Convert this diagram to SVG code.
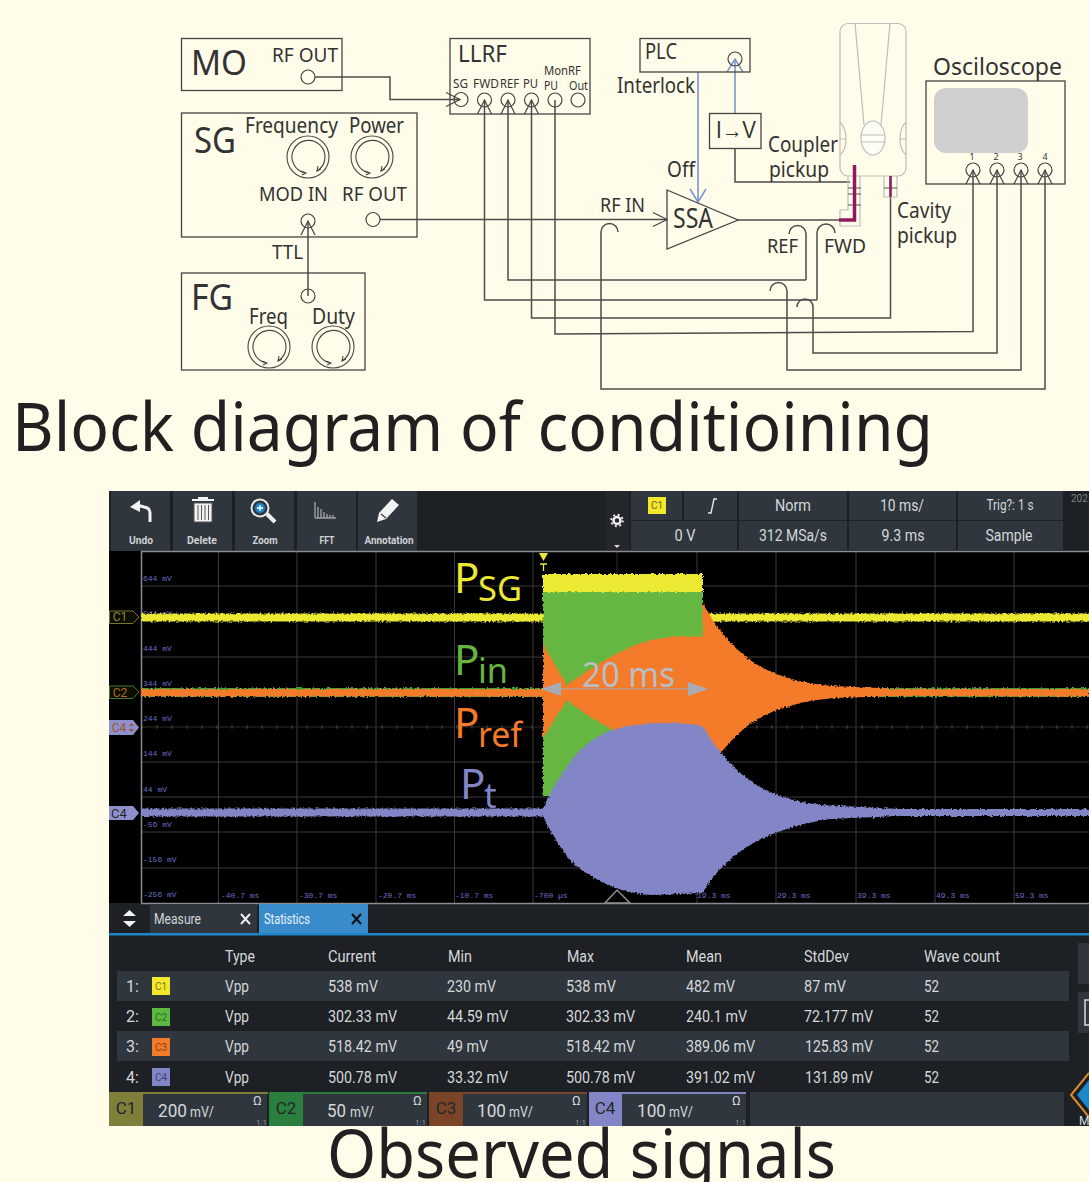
<svg xmlns="http://www.w3.org/2000/svg" xmlns:xlink="http://www.w3.org/1999/xlink" width="1089" height="1182" viewBox="0 0 1089 1182">
<style>
text{font-family:"Noto Sans","Open Sans","Liberation Sans",sans-serif;fill:#333}
.box{fill:none;stroke:#444;stroke-width:1.3}
.port{fill:none;stroke:#444;stroke-width:1.2}
.w{fill:none;stroke:#4c4c4c;stroke-width:1.5}
.b{fill:none;stroke:#7b94cf;stroke-width:1.6}
.g{fill:none;stroke:#bdbdbd;stroke-width:1.2}
.title{font-size:68px;fill:#231f20}
.ui{font-family:Roboto,"Liberation Sans",sans-serif;fill:#d5d8da;font-size:16px}
.tb{font-family:Roboto,"Liberation Sans",sans-serif;fill:#d0d3d6;font-size:11px;font-weight:700;text-anchor:middle}
.hd{font-family:Roboto,"Liberation Sans",sans-serif;fill:#d5d8da;font-size:17px;text-anchor:middle}
.ax{font-family:"Liberation Mono",monospace;fill:#6a6cc0;font-size:8px}
.btn{fill:#2f363d}
.grid{stroke:#3b3b3b;stroke-width:1;fill:none}
.chip{font-family:Roboto,"Liberation Sans",sans-serif;font-size:10px;text-anchor:middle}
.ch{font-family:Roboto,"Liberation Sans",sans-serif;font-size:17px;fill:#22262a;text-anchor:middle}
.om{font-size:13px}
.rt{font-size:8px;fill:#8d9297}
</style>
<defs>
<marker id="v" markerUnits="userSpaceOnUse" markerWidth="18" markerHeight="20" refX="15" refY="10" orient="auto"><path d="M1 3L15 10L1 17" fill="none" stroke="#444" stroke-width="1.2"/></marker>
<marker id="vb" markerUnits="userSpaceOnUse" markerWidth="18" markerHeight="20" refX="15" refY="10" orient="auto"><path d="M2 2L15 10L2 18" fill="none" stroke="#7b94cf" stroke-width="1.5"/></marker>
<g id="knob"><circle r="21" fill="none" stroke="#444" stroke-width="1.1"/><path d="M-3 16A16.5 16.5 0 1 1 9 14" fill="none" stroke="#444" stroke-width="1.1"/><path d="M-7 14L-2 16L-6 18M10 9L9 14L13 12" fill="none" stroke="#444" stroke-width="1.1"/></g>
<filter id="noise" x="0" y="0" width="1089" height="1182" filterUnits="userSpaceOnUse" color-interpolation-filters="sRGB"><feTurbulence type="fractalNoise" baseFrequency="0.45" numOctaves="2" seed="4" result="n"/><feDisplacementMap in="SourceGraphic" in2="n" scale="4" xChannelSelector="R" yChannelSelector="G"/></filter>
</defs>
<rect width="1089" height="1182" fill="#fffde9"/>

<g id="connectors">
<path class="w" d="M315 77H390V99.5H460" marker-end="url(#v)"/>
<path class="w" d="M308 296V221" marker-end="url(#v)"/>
<path class="w" d="M380 219.5H667" marker-end="url(#v)"/>
<path class="w" d="M806 280H508V100" marker-end="url(#v)"/>
<path class="w" d="M806 280V234A8.5 8.5 0 0 0 789 234"/>
<path class="w" d="M817 300H484.500V100" marker-end="url(#v)"/>
<path class="w" d="M817 300V233A9 9 0 0 1 835 233"/>
<path class="w" d="M890.500 176V318H531.500V100" marker-end="url(#v)"/>
<path class="w" d="M555 100V334L973 331.500V170" marker-end="url(#v)"/>
<path class="w" d="M770 291A8.500 8.500 0 0 1 787 291V370H1021V170" marker-end="url(#v)"/>
<path class="w" d="M797 307A8 8 0 0 1 813 307V353H997V170" marker-end="url(#v)"/>
<path class="w" d="M618 232A8.500 8.500 0 0 0 601 232V389H1045V170" marker-end="url(#v)"/>
<path class="w" d="M735 148V182H850"/>
<path class="w" d="M738 220H840"/>
<path class="b" d="M698 72V202" marker-end="url(#vb)"/>
<path class="b" d="M735 113V59" marker-end="url(#vb)"/>
</g>

<g id="node-mo"><rect class="box" x="181.500" y="38.500" width="160.500" height="52"/><text x="191" y="75" font-size="35" textLength="56" lengthAdjust="spacingAndGlyphs">MO</text><text x="272" y="62" font-size="20" textLength="66" lengthAdjust="spacingAndGlyphs">RF OUT</text><circle class="port" cx="308" cy="77" r="7"/></g>

<g id="node-llrf"><rect class="box" x="450" y="38.500" width="140" height="75.500"/><text x="458" y="62" font-size="23" textLength="49" lengthAdjust="spacingAndGlyphs">LLRF</text>
<g font-size="12"><text x="453" y="88" textLength="15" lengthAdjust="spacingAndGlyphs">SG</text><text x="473" y="88" textLength="26" lengthAdjust="spacingAndGlyphs">FWD</text><text x="500" y="88" textLength="19" lengthAdjust="spacingAndGlyphs">REF</text><text x="523" y="88" textLength="15" lengthAdjust="spacingAndGlyphs">PU</text><text x="544" y="90" textLength="14" lengthAdjust="spacingAndGlyphs">PU</text><text x="544" y="75" textLength="37" lengthAdjust="spacingAndGlyphs">MonRF</text><text x="569" y="90" textLength="19" lengthAdjust="spacingAndGlyphs">Out</text></g>
<circle class="port" cx="461" cy="99.500" r="7"/><circle class="port" cx="484.500" cy="100" r="7"/><circle class="port" cx="508" cy="100" r="7"/><circle class="port" cx="531.500" cy="100" r="7"/><circle class="port" cx="555" cy="100" r="7"/><circle class="port" cx="578" cy="100" r="7"/></g>

<g id="node-sg"><rect class="box" x="181.500" y="113" width="235.500" height="124"/><text x="194" y="153" font-size="36" textLength="42" lengthAdjust="spacingAndGlyphs">SG</text><text x="245" y="133" font-size="21" textLength="93" lengthAdjust="spacingAndGlyphs">Frequency</text><text x="349" y="133" font-size="21" textLength="55" lengthAdjust="spacingAndGlyphs">Power</text><text x="259" y="201" font-size="20" textLength="69" lengthAdjust="spacingAndGlyphs">MOD IN</text><text x="342" y="201" font-size="20" textLength="65" lengthAdjust="spacingAndGlyphs">RF OUT</text><use xlink:href="#knob" href="#knob" x="308" y="157"/><use xlink:href="#knob" href="#knob" x="372" y="157"/><circle class="port" cx="308" cy="221" r="7"/><circle class="port" cx="373" cy="219.500" r="7"/></g>

<g id="label-ttl"><text x="272" y="259" font-size="20" textLength="31" lengthAdjust="spacingAndGlyphs">TTL</text></g>

<g id="node-fg"><rect class="box" x="181.500" y="273" width="183.500" height="97"/><text x="191" y="310" font-size="36" textLength="42" lengthAdjust="spacingAndGlyphs">FG</text><text x="249" y="324" font-size="21" textLength="39" lengthAdjust="spacingAndGlyphs">Freq</text><text x="312" y="324" font-size="21" textLength="43" lengthAdjust="spacingAndGlyphs">Duty</text><circle class="port" cx="308" cy="296" r="7"/><use xlink:href="#knob" href="#knob" x="269" y="347"/><use xlink:href="#knob" href="#knob" x="333" y="347"/></g>

<g id="node-plc"><rect class="box" x="640" y="38.500" width="110" height="33.500"/><text x="645" y="59" font-size="21" textLength="32" lengthAdjust="spacingAndGlyphs">PLC</text><circle class="port" cx="735" cy="59" r="7"/><text x="617" y="93" font-size="21" textLength="78" lengthAdjust="spacingAndGlyphs">Interlock</text></g>

<g id="node-iv"><rect class="box" x="709.500" y="113.500" width="51.500" height="35"/><text x="716" y="138" font-size="23" textLength="40" lengthAdjust="spacingAndGlyphs" style="font-family:'Liberation Sans',sans-serif">I→V</text></g>

<g id="node-ssa"><path d="M667 190L738 220L667 249Z" fill="none" stroke="#444" stroke-width="1.3"/><text x="673" y="228" font-size="28" textLength="40" lengthAdjust="spacingAndGlyphs">SSA</text><text x="667" y="177" font-size="21" textLength="28" lengthAdjust="spacingAndGlyphs">Off</text><text x="600" y="212" font-size="20" textLength="45" lengthAdjust="spacingAndGlyphs">RF IN</text></g>

<g id="node-cavity">
<rect class="g" x="840" y="23.500" width="66" height="152.500" rx="8"/>
<path class="g" d="M855 23L864 125M890 23L881 125"/>
<ellipse cx="873" cy="138" rx="12" ry="17" fill="#fffef6" stroke="#bdbdbd" stroke-width="1.2"/>
<path class="g" d="M861 135H885M861 142H885"/>
<path class="g" d="M840 122Q846 128 846 139Q846 150 840 155M840 139H846M906 122Q900 128 900 139Q900 150 906 155M900 139H906"/>
<path class="g" d="M848 176V210H840V226H860V176M884 176V197H897V176"/>
<path d="M848 188H861M848 194H861M848 205H861M884 188H897" stroke="#555" stroke-width="1.2" fill="none"/>
<path d="M839 220H854.500V165" fill="none" stroke="#8e1a5e" stroke-width="3.500"/>
<path d="M890.500 176V197" fill="none" stroke="#8e1a5e" stroke-width="2.500"/>
<text x="768" y="152" font-size="21" textLength="70" lengthAdjust="spacingAndGlyphs">Coupler</text><text x="769" y="177" font-size="21" textLength="60" lengthAdjust="spacingAndGlyphs">pickup</text>
<text x="897" y="218" font-size="21" textLength="54" lengthAdjust="spacingAndGlyphs">Cavity</text><text x="897" y="243" font-size="21" textLength="60" lengthAdjust="spacingAndGlyphs">pickup</text>
<text x="767" y="253" font-size="20" textLength="31" lengthAdjust="spacingAndGlyphs">REF</text><text x="824" y="253" font-size="20" textLength="42" lengthAdjust="spacingAndGlyphs">FWD</text>
</g>

<g id="node-oscilloscope"><rect class="box" x="926" y="81" width="139" height="103"/><rect x="934" y="88" width="94" height="65" rx="12" fill="#cfcfcf"/><text x="933" y="75" font-size="24" textLength="129" lengthAdjust="spacingAndGlyphs">Osciloscope</text>
<g font-size="9" text-anchor="middle"><text x="972" y="160">1</text><text x="996" y="160">2</text><text x="1020" y="160">3</text><text x="1045" y="160">4</text></g>
<circle class="port" cx="973" cy="170" r="7"/><circle class="port" cx="997" cy="170" r="7"/><circle class="port" cx="1021" cy="170" r="7"/><circle class="port" cx="1045" cy="170" r="7"/></g>

<text class="title" x="12" y="451" textLength="921" lengthAdjust="spacingAndGlyphs">Block diagram of conditioining</text>

<g id="scope">
<rect x="109" y="491" width="980" height="635" fill="#1d2024"/>
<rect class="btn" x="111" y="491" width="59" height="60"/><rect class="btn" x="173" y="491" width="59" height="60"/><rect class="btn" x="235" y="491" width="59" height="60"/><rect class="btn" x="297" y="491" width="59" height="60"/><rect class="btn" x="358" y="491" width="59" height="60"/>
<path d="M150 522V513Q150 508 144 507L137 505" fill="none" stroke="#f2f2f2" stroke-width="3"/><path d="M130 507L140 500V512Z" fill="#f2f2f2"/>
<path d="M192 500H214M199 500V498H207V500" stroke="#f2f2f2" stroke-width="2" fill="none"/><path d="M194 503H212V522H194ZM198 505V520M201.500 505V520M205 505V520M208.500 505V520" fill="#f2f2f2" stroke="#555" stroke-width="1"/>
<circle cx="260" cy="508" r="8.500" fill="#2f363d" stroke="#e8e8e8" stroke-width="2"/><circle cx="260" cy="508" r="5" fill="#1a86c8"/><path d="M257 508H263M260 505V511" stroke="#fff" stroke-width="1.300"/><path d="M267 514L275 522" stroke="#f2f2f2" stroke-width="4"/>
<path d="M315 502V518H336M318 507V518M321 509V518M324 512V518M327 514V518M330 515V518M333 515V518" fill="none" stroke="#c8c8c8" stroke-width="1"/>
<path d="M377 522L379 513L392 499L399 505L386 519Z" fill="#f2f2f2"/><path d="M381 514L386 518" stroke="#2f363d" stroke-width="1.300"/>
<g class="tb"><text class="tb" x="141" y="544" textLength="24" lengthAdjust="spacingAndGlyphs">Undo</text><text class="tb" x="202" y="544" textLength="30" lengthAdjust="spacingAndGlyphs">Delete</text><text class="tb" x="265" y="544" textLength="25" lengthAdjust="spacingAndGlyphs">Zoom</text><text class="tb" x="327" y="544" textLength="15" lengthAdjust="spacingAndGlyphs">FFT</text><text class="tb" x="389" y="544" textLength="49" lengthAdjust="spacingAndGlyphs">Annotation</text></g>

<rect x="606" y="491" width="23" height="60" fill="#23272b"/>
<circle cx="617" cy="520.500" r="3.500" fill="none" stroke="#f2f2f2" stroke-width="2.500"/><circle cx="617" cy="520.500" r="5.800" fill="none" stroke="#f2f2f2" stroke-width="1.800" stroke-dasharray="2 2.550"/><path d="M614 545H620L617 548Z" fill="#ddd"/>
<rect class="btn" x="631" y="491" width="51" height="29"/><rect class="btn" x="684" y="491" width="53" height="29"/><rect class="btn" x="739" y="491" width="108" height="29"/><rect class="btn" x="849" y="491" width="107" height="29"/><rect class="btn" x="958" y="491" width="105" height="29"/>
<rect class="btn" x="631" y="521" width="106" height="29"/><rect class="btn" x="739" y="521" width="108" height="29"/><rect class="btn" x="849" y="521" width="107" height="29"/><rect class="btn" x="958" y="521" width="105" height="29"/>
<rect x="648" y="497" width="18" height="17" fill="#f4e82c"/><text class="chip" x="657" y="509" style="fill:#6d6a20">C1</text>
<path d="M708 513H711L714 499H717" fill="none" stroke="#e6e6e6" stroke-width="1.400"/>
<text class="hd" x="793" y="511" textLength="36" lengthAdjust="spacingAndGlyphs">Norm</text><text class="hd" x="902" y="511" textLength="44" lengthAdjust="spacingAndGlyphs">10 ms/</text><text class="hd" x="1010" y="510" style="font-size:14px" textLength="47" lengthAdjust="spacingAndGlyphs">Trig?: 1 s</text>
<text class="hd" x="685" y="541" textLength="21" lengthAdjust="spacingAndGlyphs">0 V</text><text class="hd" x="793" y="541" textLength="68" lengthAdjust="spacingAndGlyphs">312 MSa/s</text><text class="hd" x="903" y="541" textLength="43" lengthAdjust="spacingAndGlyphs">9.3 ms</text><text class="hd" x="1009" y="541" textLength="47" lengthAdjust="spacingAndGlyphs">Sample</text>
<text x="1071" y="502" style="font-family:Roboto,sans-serif;fill:#7d8288;font-size:10px">202</text>

<rect x="109" y="551" width="980" height="352" fill="#000"/>
<path class="grid" d="M218.500 551V903M297 551V903M376 551V903M454.500 551V903M533 551V903M697 551V903M776 551V903M856 551V903M935 551V903M1014 551V903M141 586H1089M141 657H1089M141 762H1089M141 797H1089M141 832H1089M141 868H1089"/>
<path d="M141 727H1089" stroke="#3b3b3b" stroke-dasharray="2 13" stroke-width="3" fill="none"/><path d="M141 727H1089M617 551V640" stroke="#2c2c2c" stroke-width="1" fill="none"/>
<path d="M141.500 903V551.500H1089M141 903.500H1089" stroke="#8a8d90" stroke-width="1.500" fill="none"/>
<g id="axis-labels"><text class="ax" x="143" y="581">644 mV</text><text class="ax" x="143" y="616">544 mV</text><text class="ax" x="143" y="651">444 mV</text><text class="ax" x="143" y="686">344 mV</text><text class="ax" x="143" y="721">244 mV</text><text class="ax" x="143" y="756">144 mV</text><text class="ax" x="143" y="792">44 mV</text><text class="ax" x="143" y="827">-56 mV</text><text class="ax" x="143" y="862">-156 mV</text><text class="ax" x="143" y="897">-256 mV</text>
<text class="ax" x="221" y="898">-40.7 ms</text><text class="ax" x="299" y="898">-30.7 ms</text><text class="ax" x="378" y="898">-20.7 ms</text><text class="ax" x="455" y="898">-10.7 ms</text><text class="ax" x="534" y="898">-700 µs</text><text class="ax" x="697" y="898">19.3 ms</text><text class="ax" x="777" y="898">29.3 ms</text><text class="ax" x="857" y="898">39.3 ms</text><text class="ax" x="936" y="898">49.3 ms</text><text class="ax" x="1015" y="898">59.3 ms</text></g>
<path d="M605 903L617 890L630 903Z" fill="none" stroke="#8a8d90" stroke-width="1.500"/>

<g id="traces" filter="url(#noise)">
<rect x="141" y="613.500" width="402" height="8" fill="#ece933"/><rect x="708" y="613.500" width="381" height="8" fill="#ece933"/>
<rect x="543" y="574" width="160" height="19" fill="#ece933"/>
<path d="M141 688H1089V697H141Z" fill="#3f9c35"/>
<rect x="543" y="592" width="160" height="204" fill="#65b741"/>
<rect x="141" y="689" width="402" height="7.500" fill="#f47b2a"/>
<path d="M703 603C712 622 730 645 750 660C770 675 800 683 833 686L900 689L1089 689V696.500L900 696L833 698C800 701 770 710 750 724C730 739 712 762 703 782V749C680 749 660 748 640 742C610 731 585 714 567 700L543 738V645L567 685C585 672 610 655 640 643C660 637 680 636 703 636Z" fill="#f47b2a"/>
<path d="M141 808.500H543C552 790 570 752 600 735C615 727 640 723 665 723C685 723 697 724 703 727C712 742 722 755 735 768C755 788 780 800 820 805L900 809H1089V816H900L830 819C790 825 760 838 745 848C725 862 712 876 703 893L650 895C625 893 600 885 575 865C560 850 550 830 543 816.500H141Z" fill="#8286c6"/>
</g>

<g id="tags">
<path d="M109.500 611H133L139 617L133 623.500H109.500Z" fill="#0c0c00" stroke="#77772f"/><text class="chip" x="120" y="621" style="fill:#8a8a2c;font-size:12px">C1</text>
<path d="M109.500 686H133L139 692L133 698.500H109.500Z" fill="#0c0c00" stroke="#3f7a30"/><text class="chip" x="120" y="697" style="fill:#b76a27;font-size:12px">C2</text>
<path d="M109 720H133L139 727.500L133 735H109Z" fill="#8e90cc"/><text class="chip" x="119" y="732" style="fill:#a0522d;font-size:12px">C4</text><path d="M129 726L131.500 723L134 726ZM129 729L131.500 732L134 729Z" fill="#a0522d"/>
<path d="M109 806H133L139 813L133 820H109Z" fill="#8e90cc"/><text class="chip" x="119" y="818" style="fill:#22262a;font-size:13px">C4</text>
<path d="M539 553H548L543.500 561Z" fill="#ece933"/><path d="M540 564H547M543.500 564V571" stroke="#ece933" stroke-width="1.300" fill="none"/>
</g>

<g id="wave-labels">
<text x="454" y="593" font-size="42" style="fill:#ece933">P</text><text x="478" y="601" font-size="35" style="fill:#ece933" textLength="44" lengthAdjust="spacingAndGlyphs">SG</text>
<text x="454" y="675" font-size="42" style="fill:#65b741">P</text><text x="478" y="683" font-size="35" style="fill:#65b741" textLength="30" lengthAdjust="spacingAndGlyphs">in</text>
<text x="454" y="738" font-size="42" style="fill:#f47b2a">P</text><text x="478" y="747" font-size="35" style="fill:#f47b2a" textLength="44" lengthAdjust="spacingAndGlyphs">ref</text>
<text x="460" y="799" font-size="42" style="fill:#8286c6">P</text><text x="484" y="808" font-size="35" style="fill:#8286c6">t</text>
<text x="582" y="687" font-size="35" style="fill:#b9bdc5" textLength="93" lengthAdjust="spacingAndGlyphs">20 ms</text>
<path d="M560 689H690" stroke="#a6abb5" stroke-width="1.200" fill="none"/><path d="M541 689L561 682V696ZM708 689L688 682V696Z" fill="#a6abb5"/>
</g>

<g id="tabs">
<rect class="btn" x="150" y="904" width="107" height="29"/><rect x="259" y="904" width="109" height="29" fill="#3a8bca"/><rect x="109" y="933" width="980" height="2.500" fill="#1f86c8"/>
<path d="M123 916L129.500 910L136 916ZM123 921L129.500 927L136 921Z" fill="#f2f2f2"/>
<text class="ui" x="154" y="924" style="font-size:14px" textLength="47" lengthAdjust="spacingAndGlyphs">Measure</text><text class="ui" x="264" y="924" style="font-size:14px;fill:#e8f2f8" textLength="46" lengthAdjust="spacingAndGlyphs">Statistics</text>
<path d="M241 914L250 924M250 914L241 924" stroke="#eee" stroke-width="2"/><path d="M352 914L361 924M361 914L352 924" stroke="#111" stroke-width="2"/>
</g>

<g id="table">
<rect class="btn" x="117" y="971" width="952" height="30"/><rect class="btn" x="117" y="1031" width="952" height="30"/>
<rect class="btn" x="1078" y="943" width="11" height="41"/><rect class="btn" x="1078" y="992" width="11" height="41"/><path d="M1089 1000H1085V1025H1089" fill="none" stroke="#ddd" stroke-width="1.500"/>
<text class="ui" x="225" y="962" textLength="30" lengthAdjust="spacingAndGlyphs">Type</text><text class="ui" x="328" y="962" textLength="48" lengthAdjust="spacingAndGlyphs">Current</text><text class="ui" x="448" y="962" textLength="24" lengthAdjust="spacingAndGlyphs">Min</text><text class="ui" x="567" y="962" textLength="27" lengthAdjust="spacingAndGlyphs">Max</text><text class="ui" x="686" y="962" textLength="36" lengthAdjust="spacingAndGlyphs">Mean</text><text class="ui" x="804" y="962" textLength="45" lengthAdjust="spacingAndGlyphs">StdDev</text><text class="ui" x="924" y="962" textLength="76" lengthAdjust="spacingAndGlyphs">Wave count</text>
<text class="ui" x="126" y="992">1:</text><text class="ui" x="126" y="1022">2:</text><text class="ui" x="126" y="1052">3:</text><text class="ui" x="126" y="1083">4:</text>
<rect x="152" y="977" width="18" height="18" fill="#f4e82c"/><text class="chip" x="161" y="990" style="fill:#77752a">C1</text>
<rect x="152" y="1008" width="18" height="18" fill="#5cb83f"/><text class="chip" x="161" y="1021" style="fill:#2a6b2a">C2</text>
<rect x="152" y="1038" width="18" height="18" fill="#f47b2a"/><text class="chip" x="161" y="1051" style="fill:#8a3f14">C3</text>
<rect x="152" y="1068" width="18" height="18" fill="#8286c6"/><text class="chip" x="161" y="1081" style="fill:#3e4380">C4</text>
<text class="ui" x="225" y="992" textLength="24" lengthAdjust="spacingAndGlyphs">Vpp</text><text class="ui" x="225" y="1022" textLength="24" lengthAdjust="spacingAndGlyphs">Vpp</text><text class="ui" x="225" y="1052" textLength="24" lengthAdjust="spacingAndGlyphs">Vpp</text><text class="ui" x="225" y="1083" textLength="24" lengthAdjust="spacingAndGlyphs">Vpp</text>
<text class="ui" x="328" y="992" textLength="50" lengthAdjust="spacingAndGlyphs">538 mV</text><text class="ui" x="447" y="992" textLength="49" lengthAdjust="spacingAndGlyphs">230 mV</text><text class="ui" x="566" y="992" textLength="50" lengthAdjust="spacingAndGlyphs">538 mV</text><text class="ui" x="686" y="992" textLength="49" lengthAdjust="spacingAndGlyphs">482 mV</text><text class="ui" x="804" y="992" textLength="42" lengthAdjust="spacingAndGlyphs">87 mV</text><text class="ui" x="924" y="992" textLength="15" lengthAdjust="spacingAndGlyphs">52</text>
<text class="ui" x="328" y="1022" textLength="69" lengthAdjust="spacingAndGlyphs">302.33 mV</text><text class="ui" x="447" y="1022" textLength="61" lengthAdjust="spacingAndGlyphs">44.59 mV</text><text class="ui" x="566" y="1022" textLength="69" lengthAdjust="spacingAndGlyphs">302.33 mV</text><text class="ui" x="686" y="1022" textLength="61" lengthAdjust="spacingAndGlyphs">240.1 mV</text><text class="ui" x="804" y="1022" textLength="69" lengthAdjust="spacingAndGlyphs">72.177 mV</text><text class="ui" x="924" y="1022" textLength="15" lengthAdjust="spacingAndGlyphs">52</text>
<text class="ui" x="328" y="1052" textLength="69" lengthAdjust="spacingAndGlyphs">518.42 mV</text><text class="ui" x="447" y="1052" textLength="41" lengthAdjust="spacingAndGlyphs">49 mV</text><text class="ui" x="566" y="1052" textLength="69" lengthAdjust="spacingAndGlyphs">518.42 mV</text><text class="ui" x="686" y="1052" textLength="69" lengthAdjust="spacingAndGlyphs">389.06 mV</text><text class="ui" x="805" y="1052" textLength="68" lengthAdjust="spacingAndGlyphs">125.83 mV</text><text class="ui" x="924" y="1052" textLength="15" lengthAdjust="spacingAndGlyphs">52</text>
<text class="ui" x="328" y="1083" textLength="69" lengthAdjust="spacingAndGlyphs">500.78 mV</text><text class="ui" x="447" y="1083" textLength="61" lengthAdjust="spacingAndGlyphs">33.32 mV</text><text class="ui" x="566" y="1083" textLength="69" lengthAdjust="spacingAndGlyphs">500.78 mV</text><text class="ui" x="686" y="1083" textLength="69" lengthAdjust="spacingAndGlyphs">391.02 mV</text><text class="ui" x="805" y="1083" textLength="68" lengthAdjust="spacingAndGlyphs">131.89 mV</text><text class="ui" x="924" y="1083" textLength="15" lengthAdjust="spacingAndGlyphs">52</text>
</g>

<g id="channel-bar">
<rect x="109" y="1092" width="34" height="34" fill="#7f7f3a"/><rect class="btn" x="143" y="1094" width="124" height="32"/><rect x="143" y="1092" width="125" height="2" fill="#7f7f3a"/>
<rect x="269" y="1092" width="34" height="34" fill="#2a7f3f"/><rect class="btn" x="303" y="1094" width="124" height="32"/><rect x="303" y="1092" width="124" height="2" fill="#2a7f3f"/>
<rect x="429" y="1092" width="34" height="34" fill="#7a4526"/><rect class="btn" x="463" y="1094" width="124" height="32"/><rect x="463" y="1092" width="124" height="2" fill="#7a4526"/>
<rect x="589" y="1092" width="33" height="34" fill="#8286c6"/><rect class="btn" x="622" y="1094" width="124" height="32"/><rect x="622" y="1092" width="124" height="2" fill="#8286c6"/>
<rect class="btn" x="750" y="1092" width="314" height="34"/>
<path d="M1089 1073L1071 1095L1089 1117" fill="none" stroke="#e08a2c" stroke-width="2"/><path d="M1089 1080L1077 1095L1089 1110Z" fill="#1f86c8"/>
<text class="ui" x="1079" y="1125" style="font-size:12px">M</text>
<text class="ch" x="126" y="1114">C1</text><text class="ch" x="286" y="1114">C2</text><text class="ch" x="446" y="1114">C3</text><text class="ch" x="605" y="1114">C4</text>
<text class="ui" x="158" y="1117" style="font-size:19px" textLength="29" lengthAdjust="spacingAndGlyphs">200</text><text class="ui" x="190" y="1117" style="font-size:14px" textLength="24" lengthAdjust="spacingAndGlyphs">mV/</text>
<text class="ui" x="327" y="1117" style="font-size:19px" textLength="19" lengthAdjust="spacingAndGlyphs">50</text><text class="ui" x="350" y="1117" style="font-size:14px" textLength="24" lengthAdjust="spacingAndGlyphs">mV/</text>
<text class="ui" x="477" y="1117" style="font-size:19px" textLength="29" lengthAdjust="spacingAndGlyphs">100</text><text class="ui" x="509" y="1117" style="font-size:14px" textLength="24" lengthAdjust="spacingAndGlyphs">mV/</text>
<text class="ui" x="637" y="1117" style="font-size:19px" textLength="29" lengthAdjust="spacingAndGlyphs">100</text><text class="ui" x="669" y="1117" style="font-size:14px" textLength="24" lengthAdjust="spacingAndGlyphs">mV/</text>
<text class="ui om" x="253" y="1105" style="font-size:13px">Ω</text><text class="ui om" x="413" y="1105" style="font-size:13px">Ω</text><text class="ui om" x="572" y="1105" style="font-size:13px">Ω</text><text class="ui om" x="732" y="1105" style="font-size:13px">Ω</text>
<text class="ui rt" x="256" y="1125" style="font-size:8px;fill:#8d9297">1:1</text><text class="ui rt" x="415" y="1125" style="font-size:8px;fill:#8d9297">1:1</text><text class="ui rt" x="575" y="1125" style="font-size:8px;fill:#8d9297">1:1</text><text class="ui rt" x="735" y="1125" style="font-size:8px;fill:#8d9297">1:1</text>
</g>
</g>

<text class="title" x="327" y="1178" textLength="509" lengthAdjust="spacingAndGlyphs">Observed signals</text>
</svg>
